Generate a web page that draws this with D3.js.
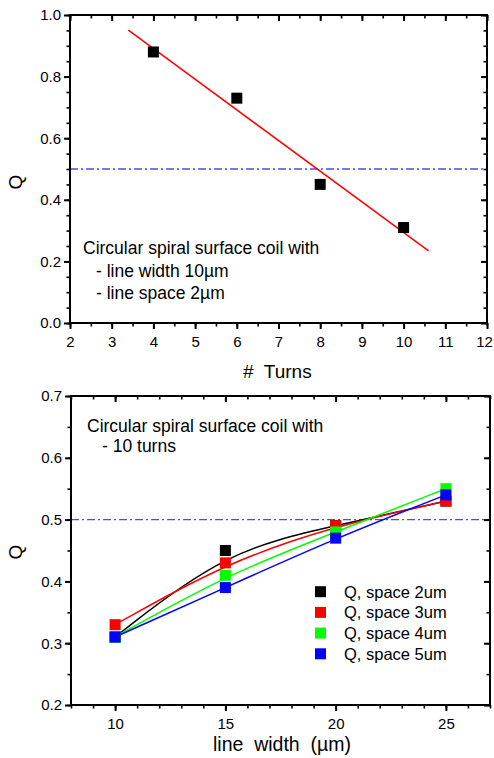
<!DOCTYPE html>
<html>
<head>
<meta charset="utf-8">
<script src="https://cdn.jsdelivr.net/npm/d3@7"></script>
<style>
  body { margin: 0; background: #fff; }
  text { font-family: "Liberation Sans", Arial, sans-serif; fill: #000; }
</style>
</head>
<body>
<div id="chart"></div>
<script>
// top panel: Q vs number of turns
let turns = [4, 6, 8, 10];
let qTurns = [0.88, 0.73, 0.45, 0.31];
let fitTurns = [3.4, 10.6];
let fitQ = [0.951, 0.234];
let topXTicks = [2, 3, 4, 5, 6, 7, 8, 9, 10, 11, 12];
let topYTicks = [0.0, 0.2, 0.4, 0.6, 0.8, 1.0];

// bottom panel: Q vs line width, one series per line space
let lineWidths = [10, 15, 20, 25];
let qSpace2 = [0.31, 0.45, 0.49, 0.53];
let qSpace3 = [0.33, 0.43, 0.49, 0.53];
let qSpace4 = [0.31, 0.41, 0.48, 0.55];
let qSpace5 = [0.31, 0.39, 0.47, 0.54];
let seriesNames = ["Q, space 2um", "Q, space 3um", "Q, space 4um", "Q, space 5um"];
let seriesColors = ["#000000", "#ff0000", "#00ff00", "#0000ff"];
let botXTicks = [10, 15, 20, 25];
let botYTicks = [0.2, 0.3, 0.4, 0.5, 0.6, 0.7];

let refQ = 0.5;

var svg = d3.select("#chart")
    .append("svg")
    .attr("width", 494)
    .attr("height", 758);

// draws box with outward ticks on bottom/left and inward mirror ticks on top/right
function drawFrame(g, x, y, xMajor, xMinor, yMajor, yMinor, fmtX, fmtY) {
    let x0 = x.range()[0], x1 = x.range()[1];
    let y0 = y.range()[0], y1 = y.range()[1];

    g.append("rect")
        .attr("x", x0).attr("y", y1)
        .attr("width", x1 - x0).attr("height", y0 - y1)
        .attr("fill", "none").attr("stroke", "#000").attr("stroke-width", 2);

    let sides = [
        {make: () => d3.axisBottom(x), t: `translate(0,${y0})`, major: xMajor, minor: xMinor, dir: 1, fmt: fmtX, pad: 7},
        {make: () => d3.axisTop(x), t: `translate(0,${y1})`, major: xMajor, minor: xMinor, dir: -1, fmt: null},
        {make: () => d3.axisLeft(y), t: `translate(${x0},0)`, major: yMajor, minor: yMinor, dir: 1, fmt: fmtY, pad: 3},
        {make: () => d3.axisRight(y), t: `translate(${x1},0)`, major: yMajor, minor: yMinor, dir: -1, fmt: null}
    ];
    sides.forEach(function(a) {
        g.append("g").attr("transform", a.t)
            .call(a.make().tickValues(a.minor).tickSize(3.5 * a.dir).tickSizeOuter(0).tickFormat(""))
            .call(s => s.select(".domain").remove())
            .call(s => s.selectAll("line").attr("stroke-width", 1.6));
        g.append("g").attr("transform", a.t)
            .call(a.make().tickValues(a.major).tickSize(6 * a.dir).tickSizeOuter(0)
                .tickPadding(a.pad || 3).tickFormat(a.fmt || ""))
            .call(s => s.select(".domain").remove())
            .call(s => s.selectAll("line").attr("stroke-width", 2))
            .call(s => s.selectAll("text")
                .attr("font-family", "Liberation Sans, Arial, sans-serif")
                .attr("font-size", 15).attr("fill", "#000"));
    });
}

function refLine(g, x, y) {
    g.append("line")
        .attr("x1", x.range()[0]).attr("x2", x.range()[1])
        .attr("y1", y(refQ)).attr("y2", y(refQ))
        .attr("stroke", "#4a4aff").attr("stroke-width", 1.4)
        .attr("stroke-dasharray", "8,3,2,3");
}

function range(a, b, step) {
    let out = [];
    for (let v = a; v <= b + 1e-9; v += step) out.push(+v.toFixed(3));
    return out;
}

// ---------- top panel ----------
var gTop = svg.append("g");
var xTop = d3.scaleLinear().domain([2, 12]).range([70, 487]);
var yTop = d3.scaleLinear().domain([0, 1]).range([323, 15]);

refLine(gTop, xTop, yTop);

gTop.append("path")
    .datum(fitTurns.map((t, i) => [t, fitQ[i]]))
    .attr("fill", "none").attr("stroke", "#ff0000").attr("stroke-width", 1.5)
    .attr("d", d3.line().x(d => xTop(d[0])).y(d => yTop(d[1])));

gTop.selectAll("rect.pt")
    .data(turns.map((t, i) => [t, qTurns[i]]))
    .enter().append("rect")
    .attr("class", "pt")
    .attr("x", d => xTop(d[0]) - 5.5).attr("y", d => yTop(d[1]) - 5.5)
    .attr("width", 11).attr("height", 11).attr("fill", "#000");

drawFrame(gTop, xTop, yTop, topXTicks, range(2, 12, 0.5), topYTicks, range(0, 1, 0.05),
    d3.format("d"), d3.format(".1f"));
// keep the last tick label inside the page
gTop.selectAll("text").filter(function() { return this.textContent == "12"; }).attr("dx", -3);

gTop.append("text")
    .attr("x", 243).attr("y", 377.5)
    .attr("font-size", 19)
    .attr("xml:space", "preserve")
    .text("#  Turns");

gTop.append("text")
    .attr("transform", "translate(15,182) rotate(-90)")
    .attr("text-anchor", "middle").attr("dy", "0.35em").attr("font-size", 19)
    .text("Q");

let noteTop = gTop.append("text").attr("font-size", 17.5);
noteTop.append("tspan").attr("x", 83).attr("y", 254).text("Circular spiral surface coil with");
noteTop.append("tspan").attr("x", 96).attr("y", 276.5).text("- line width 10\u00b5m");
noteTop.append("tspan").attr("x", 96).attr("y", 298.5).text("- line space 2\u00b5m");

// ---------- bottom panel ----------
var gBot = svg.append("g");
var xBot = d3.scaleLinear().domain([8, 27]).range([71, 490]);
var yBot = d3.scaleLinear().domain([0.2, 0.7]).range([705, 396]);

refLine(gBot, xBot, yBot);

let allSeries = [qSpace2, qSpace3, qSpace4, qSpace5];
let curve = d3.line().curve(d3.curveBasis).x(d => xBot(d[0])).y(d => yBot(d[1]));

allSeries.forEach(function(vals, i) {
    gBot.append("path")
        .datum(lineWidths.map((w, j) => [w, vals[j]]))
        .attr("fill", "none").attr("stroke", seriesColors[i]).attr("stroke-width", 1.5)
        .attr("d", curve);
});
allSeries.forEach(function(vals, i) {
    gBot.selectAll("rect.s" + i)
        .data(lineWidths.map((w, j) => [w, vals[j]]))
        .enter().append("rect")
        .attr("class", "s" + i)
        .attr("x", d => xBot(d[0]) - 5.5).attr("y", d => yBot(d[1]) - 5.5)
        .attr("width", 11).attr("height", 11).attr("fill", seriesColors[i]);
});

drawFrame(gBot, xBot, yBot, botXTicks, range(8, 27, 1), botYTicks, range(0.2, 0.7, 0.05),
    d3.format("d"), d3.format(".1f"));

// legend
let legend = gBot.append("g").attr("transform", "translate(315,597.7)");
seriesNames.forEach(function(name, i) {
    legend.append("rect")
        .attr("x", 0).attr("y", i * 20.7 - 11.5)
        .attr("width", 11).attr("height", 11).attr("fill", seriesColors[i]);
    legend.append("text")
        .attr("x", 29).attr("y", i * 20.7)
        .attr("font-size", 16.5).text(name);
});

gBot.append("text")
    .attr("x", 213).attr("y", 751)
    .attr("font-size", 19.5)
    .attr("xml:space", "preserve")
    .text("line  width  (\u00b5m)");

gBot.append("text")
    .attr("transform", "translate(15,552) rotate(-90)")
    .attr("text-anchor", "middle").attr("dy", "0.35em").attr("font-size", 19)
    .text("Q");

let noteBot = gBot.append("text").attr("font-size", 17.5);
noteBot.append("tspan").attr("x", 87).attr("y", 432).text("Circular spiral surface coil with");
noteBot.append("tspan").attr("x", 102).attr("y", 452).text("- 10 turns");
</script>
</body>
</html>
